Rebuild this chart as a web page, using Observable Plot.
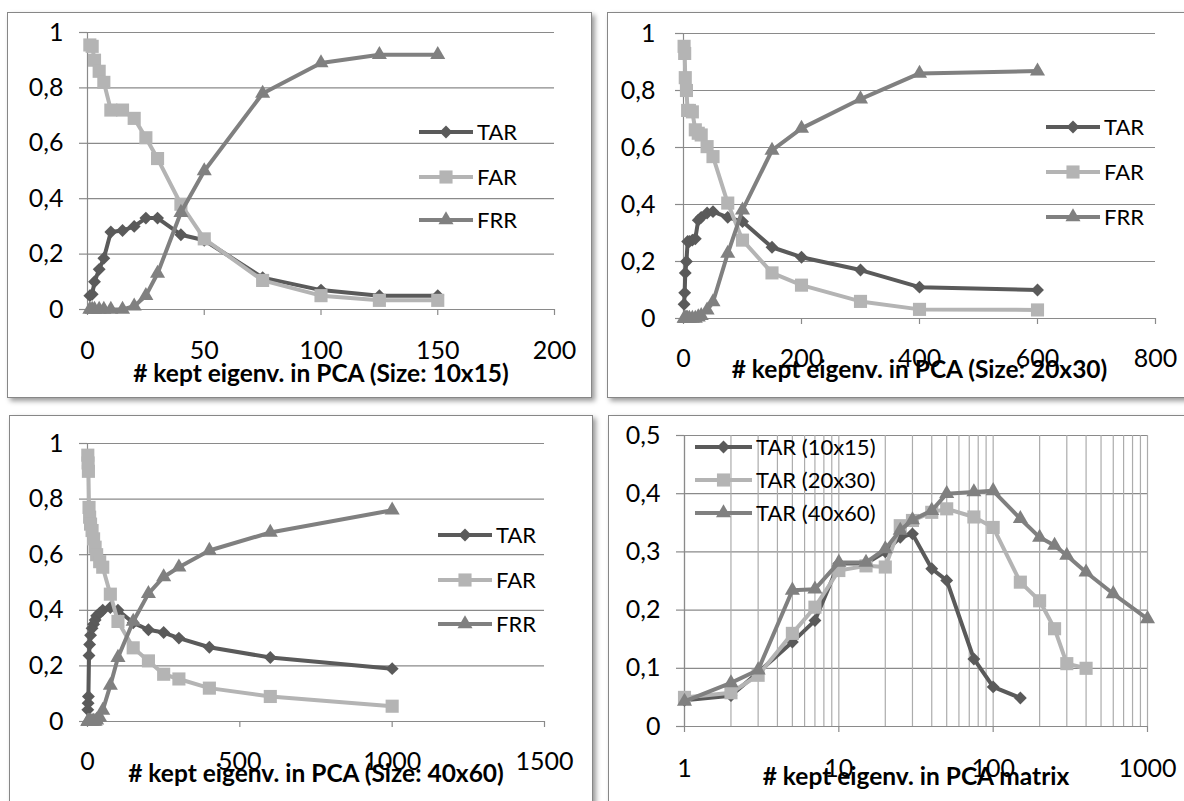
<!DOCTYPE html>
<html><head><meta charset="utf-8">
<script src="https://cdn.jsdelivr.net/npm/d3@7"></script>
<script src="https://cdn.jsdelivr.net/npm/@observablehq/plot@0.6"></script>
<style>
body{margin:0;background:#fff;font-family:Lato,sans-serif;}
#wrap{position:relative;width:1184px;height:801px;overflow:hidden;background:#fff;}
.box{position:absolute;border:1.5px solid #878787;box-shadow:3px 3px 5px rgba(0,0,0,0.4);background:#fff;box-sizing:border-box;}
.plotsvg{position:absolute;}
.legend{position:absolute;display:flex;align-items:center;font-family:Lato,sans-serif;font-size:22px;line-height:1;color:#000;white-space:nowrap;}
</style></head><body><div id="wrap"></div>
<script>
// ---------- data ----------
// Panel 1: Size 10x15
const x10 = [1,2,3,5,7,10,15,20,25,30,40,50,75,100,125,150];
const tar10 = [0.05,0.055,0.1,0.145,0.185,0.28,0.285,0.3,0.33,0.33,0.27,0.25,0.115,0.07,0.05,0.05];
const far10 = [0.955,0.95,0.9,0.86,0.82,0.72,0.72,0.69,0.62,0.545,0.38,0.255,0.105,0.05,0.033,0.033];
const frr10 = [0,0,0,0,0,0,0,0.012,0.05,0.13,0.35,0.5,0.78,0.89,0.92,0.92];
// Panel 2: Size 20x30
const x20 = [1,2,3,5,7,10,15,20,25,30,40,50,75,100,150,200,300,400,600];
const tar20 = [0.05,0.09,0.16,0.2,0.27,0.27,0.275,0.28,0.345,0.355,0.37,0.375,0.355,0.34,0.25,0.215,0.17,0.11,0.1];
const far20 = [0.955,0.93,0.845,0.8,0.73,0.73,0.725,0.662,0.65,0.644,0.603,0.568,0.405,0.275,0.16,0.117,0.06,0.032,0.03];
const frr20 = [0,0,0,0,0,0,0,0,0.005,0.01,0.029,0.058,0.228,0.38,0.59,0.667,0.77,0.86,0.868];
// Panel 3: Size 40x60
const x40 = [1,2,3,5,7,10,15,20,25,30,40,50,75,100,150,200,250,300,400,600,1000];
const tar40 = [0.042,0.066,0.09,0.237,0.277,0.31,0.335,0.35,0.365,0.38,0.39,0.4,0.41,0.4,0.355,0.33,0.32,0.3,0.267,0.23,0.19];
const far40 = [0.958,0.93,0.9,0.77,0.735,0.71,0.687,0.657,0.627,0.6,0.575,0.555,0.458,0.36,0.265,0.218,0.17,0.153,0.12,0.09,0.055];
const frr40 = [0,0,0,0,0,0,0,0,0,0.005,0.015,0.04,0.13,0.23,0.36,0.46,0.52,0.555,0.615,0.68,0.76];
// Panel 4: TAR comparison (log x)
const xc10 = [1,2,3,5,7,10,15,20,25,30,40,50,75,100,150];
const tarc10 = [0.045,0.053,0.093,0.145,0.182,0.28,0.28,0.3,0.325,0.331,0.271,0.251,0.116,0.068,0.049];
const xc20 = [1,2,3,5,7,10,15,20,25,30,40,50,75,100,150,200,250,300,400];
const tarc20 = [0.05,0.058,0.088,0.16,0.205,0.268,0.276,0.274,0.345,0.354,0.368,0.374,0.36,0.342,0.248,0.216,0.168,0.108,0.1];
const xc40 = [1,2,3,5,7,10,15,20,25,30,40,50,75,100,150,200,250,300,400,600,1000];
const tarc40 = [0.043,0.075,0.097,0.234,0.236,0.282,0.282,0.305,0.337,0.355,0.371,0.4,0.403,0.405,0.357,0.325,0.311,0.294,0.265,0.228,0.185];

// ticks and labels
const yTicks1 = [0,0.2,0.4,0.6,0.8,1];
const yTicks4 = [0,0.1,0.2,0.3,0.4,0.5];
const xTicks1 = [0,50,100,150,200];
const xTicks2 = [0,200,400,600,800];
const xTicks3 = [0,500,1000,1500];
const xTicks4 = [1,10,100,1000];
const minorLog = [1,2,3,4,5,6,7,8,9,10,20,30,40,50,60,70,80,90,100,200,300,400,500,600,700,800,900,1000];
const names3 = ["TAR","FAR","FRR"];
const names4 = ["TAR (10x15)","TAR (20x30)","TAR (40x60)"];
const titles = ["# kept eigenv. in PCA (Size: 10x15)","# kept eigenv. in PCA (Size: 20x30)","# kept eigenv. in PCA (Size: 40x60)","# kept eigenv. in PCA matrix"];

// ---------- styles ----------
const cDark = "#5a5a5a", cLight = "#b4b4b4", cMid = "#808080";
const sym = {diamond2: {plot:"diamond2", d3: d3.symbolDiamond2, r:5.8},
             square: {plot:"square", d3: d3.symbolSquare, r:7.4},
             triangle: {plot:"triangle", d3: d3.symbolTriangle, r:5.6}};
const gridCol = "#8a8a8a";
const comma = d => String(d).replace(".", ",");

const panels = [
  {box:[7,12,585,386], m:[20,38,89,80], type:"linear", xDomain:[0,200], yDomain:[0,1], xTicks:xTicks1, yTicks:yTicks1, xPad:26, yPad:16, titleDy:72, title:titles[0],
   series:[{x:x10,y:tar10,c:cDark,s:"diamond2",n:names3[0]},{x:x10,y:far10,c:cLight,s:"square",n:names3[1]},{x:x10,y:frr10,c:cMid,s:"triangle",n:names3[2]}],
   legend:{x:419, len:54, ys:[132,177,220]}},
  {box:[607,12,580,386], m:[21,32,80,76], type:"linear", xDomain:[0,800], yDomain:[0,1], xTicks:xTicks2, yTicks:yTicks1, xPad:25, yPad:20, titleDy:59, title:titles[1],
   series:[{x:x20,y:tar20,c:cDark,s:"diamond2",n:names3[0]},{x:x20,y:far20,c:cLight,s:"square",n:names3[1]},{x:x20,y:frr20,c:cMid,s:"triangle",n:names3[2]}],
   legend:{x:1046, len:54, ys:[127,172,217]}},
  {box:[9,415,584,392], m:[28,49,86,78], type:"linear", xDomain:[0,1500], yDomain:[0,1], xTicks:xTicks3, yTicks:yTicks1, xPad:25, yPad:16, titleDy:60, title:titles[2],
   series:[{x:x40,y:tar40,c:cDark,s:"diamond2",n:names3[0]},{x:x40,y:far40,c:cLight,s:"square",n:names3[1]},{x:x40,y:frr40,c:cMid,s:"triangle",n:names3[2]}],
   legend:{x:438, len:54, ys:[535,580,624]}},
  {box:[608,415,580,392], m:[20,41,81,76], type:"log", xDomain:[1,1000], yDomain:[0,0.5], xTicks:xTicks4, yTicks:yTicks4, xPad:27, yPad:16, titleDy:58, title:titles[3], minor:minorLog,
   series:[{x:xc10,y:tarc10,c:cDark,s:"diamond2",n:names4[0]},{x:xc20,y:tarc20,c:cLight,s:"square",n:names4[1]},{x:xc40,y:tarc40,c:cMid,s:"triangle",n:names4[2]}],
   legend:{x:695, len:57, ys:[447,480,513]}}
];

const wrap = d3.select("#wrap");

for (const p of panels) {
  wrap.append("div").attr("class","box")
    .style("left",p.box[0]+"px").style("top",p.box[1]+"px")
    .style("width",p.box[2]+"px").style("height",p.box[3]+"px");
  const marks = [];
  marks.push(Plot.gridY(p.yTicks, {stroke:gridCol, strokeOpacity:1, strokeWidth:1.2}));
  if (p.minor) marks.push(Plot.gridX(p.minor, {stroke:"#acacac", strokeOpacity:1, strokeWidth:1.2}));
  marks.push(Plot.ruleX([p.xDomain[0]], {stroke:gridCol, strokeWidth:1.2}));
  marks.push(Plot.axisY(p.yTicks, {tickSize:8, tickPadding:p.yPad, stroke:gridCol, strokeWidth:1.2, tickFormat:comma, label:null, fontSize:25}));
  marks.push(Plot.axisX(p.xTicks, {tickSize:6, tickPadding:p.xPad, stroke:gridCol, strokeWidth:1.2, tickFormat:d=>String(d), label:null, fontSize:25}));
  for (const s of p.series) {
    const data = s.x.map((x,i)=>({x, y:s.y[i]}));
    marks.push(Plot.line(data, {x:"x", y:"y", stroke:s.c, strokeWidth:4, strokeLinejoin:"round"}));
    marks.push(Plot.dot(data, {x:"x", y:"y", symbol:sym[s.s].plot, r:sym[s.s].r, fill:s.c, stroke:"none"}));
  }
  marks.push(Plot.text([p.title], {text:d=>d, frameAnchor:"bottom", dy:p.titleDy, fontWeight:"bold", fontSize:24.5, fill:"#000"}));
  const chart = Plot.plot({
    width:p.box[2], height:p.box[3],
    marginTop:p.m[0], marginRight:p.m[1], marginBottom:p.m[2], marginLeft:p.m[3],
    x:{type:p.type, domain:p.xDomain},
    y:{domain:p.yDomain},
    style:{fontFamily:"Lato, sans-serif", fontSize:"25px", color:"#000", background:"transparent", overflow:"visible", maxWidth:"none"},
    marks
  });
  chart.classList.add("plotsvg");
  chart.style.left = p.box[0]+"px";
  chart.style.top = p.box[1]+"px";
  wrap.node().appendChild(chart);

  // legend
  p.series.forEach((s,i)=>{
    const cy = p.legend.ys[i];
    const div = wrap.append("div").attr("class","legend")
      .style("left",p.legend.x+"px").style("top",(cy-15)+"px").style("height","30px");
    const svg = div.append("svg").attr("width",p.legend.len+4).attr("height",30);
    svg.append("line").attr("x1",0).attr("x2",p.legend.len).attr("y1",15).attr("y2",15)
      .attr("stroke",s.c).attr("stroke-width",4);
    const r = sym[s.s].r;
    svg.append("path").attr("d", d3.symbol(sym[s.s].d3, Math.PI*r*r)())
      .attr("transform",`translate(${p.legend.len/2},15)`).attr("fill",s.c);
    div.append("span").text(s.n);
  });
}
</script></body></html>
